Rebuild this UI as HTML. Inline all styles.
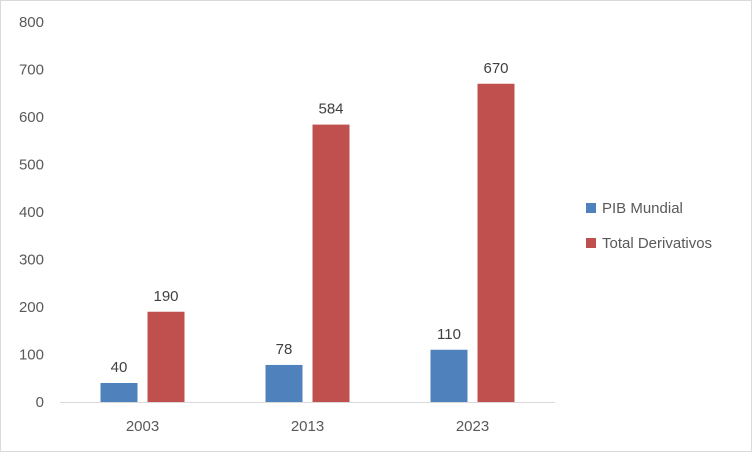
<!DOCTYPE html>
<html><head><meta charset="utf-8"><style>
body{margin:0;background:#fff}
svg{display:block;font-family:"Liberation Sans",sans-serif}
</style></head><body>
<svg width="752" height="452" id="c">
<rect x="0.5" y="0.5" width="751" height="451" fill="#fff" stroke="#d9d9d9"/>
</svg>
<script>
const categories=["2003","2013","2023"];
const pib=[40,78,110];
const derivativos=[190,584,670];
const ticks=[0,100,200,300,400,500,600,700,800];
const seriesNames=["PIB Mundial","Total Derivativos"];
const colors=["#4f81bd","#c0504d"];
const svg=document.getElementById('c');
const NS="http://www.w3.org/2000/svg";
const y0=402,yTop=22,maxV=800,x0=60,x1=555;
const y=v=>y0-(v/maxV)*(y0-yTop);
const step=(x1-x0)/categories.length;
const cx=i=>x0+step*(i+0.5);
function mk(t,a,txt){const e=document.createElementNS(NS,t);for(const k in a)e.setAttribute(k,a[k]);if(txt!==undefined)e.textContent=txt;svg.appendChild(e);return e;}
ticks.forEach(t=>{const e=mk('text',{x:44,y:y(t)+5,'text-anchor':'end','font-size':15,fill:'#595959'},t);

});
const ax=mk('line',{x1:x0,x2:x1,y1:y0+0.5,y2:y0+0.5,stroke:'#d9d9d9'});


const bw=37,gap=10;
[pib,derivativos].forEach((s,si)=>{
 s.forEach((v,i)=>{
  const bx=cx(i)-gap/2-bw+si*(bw+gap);
  const r=mk('rect',{x:bx,y:y(v),width:bw,height:y0-y(v),fill:colors[si]});
  
  
  const l=mk('text',{x:bx+bw/2,y:y(v)-11,'text-anchor':'middle','font-size':15,fill:'#404040'},v);
  
  
 });
});
categories.forEach((c,i)=>{const e=mk('text',{x:cx(i),y:431,'text-anchor':'middle','font-size':15,fill:'#595959'},c);

});
seriesNames.forEach((n,i)=>{
 const ly=208+i*35;
 const s=mk('rect',{x:586,y:ly-5,width:10,height:10,fill:colors[i]});
 
 
 const t=mk('text',{x:602,y:ly+5,'font-size':15,fill:'#595959'},n);
 
 
});
</script>
</body></html>
